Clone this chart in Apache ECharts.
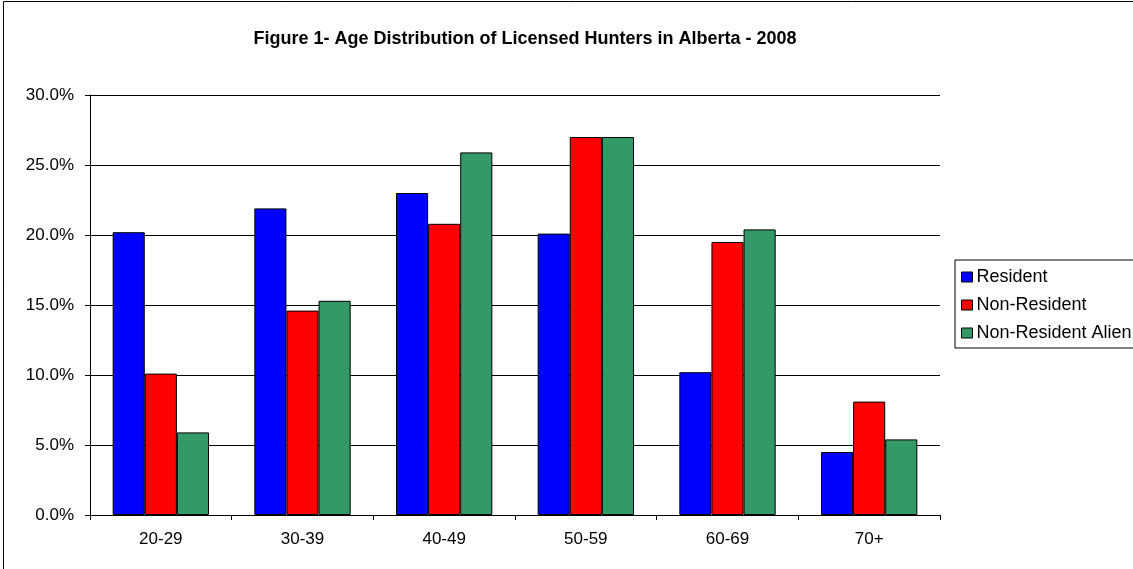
<!DOCTYPE html>
<html>
<head>
    <meta charset="utf-8">
    <title>Age Distribution of Licensed Hunters in Alberta - 2008</title>
    <script src="https://cdn.jsdelivr.net/npm/echarts@6/dist/echarts.min.js"></script>
    <style>
        body { margin: 0; background: #fff; }
    </style>
</head>
<body>
    <div id="main" style="width: 1133px;height:569px;"></div>
    <script type="text/javascript">
        // data (percent)
        var ageGroups = ['20-29', '30-39', '40-49', '50-59', '60-69', '70+'];
        var resident = [20.2, 21.9, 23.0, 20.1, 10.2, 4.5];
        var nonResident = [10.1, 14.6, 20.8, 27.0, 19.5, 8.1];
        var nonResidentAlien = [5.9, 15.3, 25.9, 27.0, 20.4, 5.4];
        var seriesNames = ['Resident', 'Non-Resident', 'Non-Resident Alien'];

        var myChart = echarts.init(document.getElementById('main'));

        function barSeries(name, data, color) {
            return {
                name: name,
                type: 'bar',
                data: data,
                barGap: '0%',
                barCategoryGap: '32%',
                itemStyle: { color: color, borderColor: '#000', borderWidth: 1 }
            };
        }

        var option = {
            backgroundColor: '#fff',
            animation: false,
            textStyle: { fontFamily: 'Liberation Sans, Arial, sans-serif' },
            title: {
                text: 'Figure 1- Age Distribution of Licensed Hunters in Alberta - 2008',
                left: 520,
                textAlign: 'center',
                top: 25,
                textStyle: { fontSize: 18, fontWeight: 'bold', color: '#000' }
            },
            graphic: [{
                type: 'rect',
                shape: { x: 3.5, y: 1.5, width: 1140, height: 580 },
                style: { fill: 'none', stroke: '#000', lineWidth: 1 },
                silent: true
            }],
            legend: {
                data: seriesNames,
                orient: 'vertical',
                left: 955,
                top: 260,
                itemWidth: 11,
                itemHeight: 10,
                itemGap: 10,
                padding: [8, 30, 6, 6],
                borderColor: '#000',
                borderWidth: 1,
                icon: 'rect',
                itemStyle: { borderColor: '#000', borderWidth: 1 },
                textStyle: { fontSize: 18, color: '#000', padding: [0, 0, 0, -1] }
            },
            grid: { left: 90, right: 193, top: 95, bottom: 54 },
            xAxis: {
                type: 'category',
                data: ageGroups,
                axisLine: { lineStyle: { color: '#000' } },
                axisTick: { show: true, lineStyle: { color: '#000' }, length: 5 },
                axisLabel: { color: '#000', fontSize: 17, margin: 16 }
            },
            yAxis: {
                type: 'value',
                min: 0,
                max: 30,
                interval: 5,
                axisLine: { show: true, lineStyle: { color: '#000' } },
                axisTick: { show: true, lineStyle: { color: '#000' }, length: 5 },
                axisLabel: {
                    color: '#000',
                    fontSize: 17,
                    margin: 16,
                    formatter: function (v) { return v.toFixed(1) + '%'; }
                },
                splitLine: { lineStyle: { color: '#000', width: 1 } }
            },
            series: [
                barSeries(seriesNames[0], resident, '#0000FF'),
                barSeries(seriesNames[1], nonResident, '#FF0000'),
                barSeries(seriesNames[2], nonResidentAlien, '#339966')
            ]
        };

        myChart.setOption(option);
    </script>
</body>
</html>
